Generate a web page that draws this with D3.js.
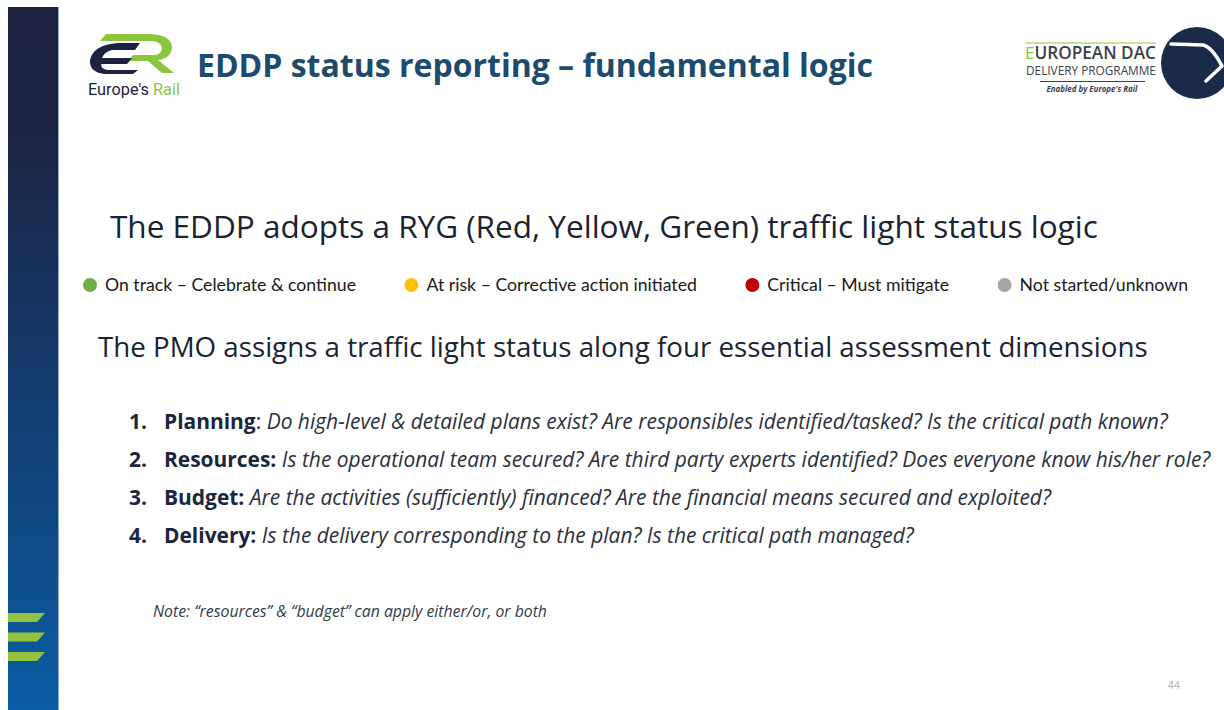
<!DOCTYPE html>
<html>
<head>
<meta charset="utf-8">
<script src="https://cdn.jsdelivr.net/npm/d3@7"></script>
<style>
  html, body { margin: 0; padding: 0; background: #fff; }
  svg { display: block; }
</style>
</head>
<body>
<svg id="slide"></svg>
<script>
// slide content
const titleText = "EDDP status reporting \u2013 fundamental logic";
const headingText = "The EDDP adopts a RYG (Red, Yellow, Green) traffic light status logic";
const subheadingText = "The PMO assigns a traffic light status along four essential assessment dimensions";
const legendLabels = [
    "On track \u2013 Celebrate & continue",
    "At risk \u2013 Corrective action initiated",
    "Critical \u2013 Must mitigate",
    "Not started/unknown"
];
const legendColors = ["#70ad47", "#ffc000", "#c00000", "#a6a6a6"];
const dimensionNumbers = ["1.", "2.", "3.", "4."];
const dimensionNames = ["Planning", "Resources:", "Budget:", "Delivery:"];
const dimensionSeps = [":", "", "", ""];
const dimensionQuestions = [
    "Do high-level & detailed plans exist? Are responsibles identified/tasked? Is the critical path known?",
    "Is the operational team secured? Are third party experts identified? Does everyone know his/her role?",
    "Are the activities (sufficiently) financed? Are the financial means secured and exploited?",
    "Is the delivery corresponding to the plan? Is the critical path managed?"
];
const noteText = "Note: \u201cresources\u201d & \u201cbudget\u201d can apply either/or, or both";
const pageNumber = "44";

const W = 1224, H = 710;
const svg = d3.select("#slide").attr("width", W).attr("height", H);
const defs = svg.append("defs");

// shrink/grow a text node so it spans a given width
const fitWidth = (sel, target) => {
    const node = sel.node();
    const size = parseFloat(sel.attr("font-size"));
    const w = node.getBBox().width;
    sel.attr("font-size", (size * target / w).toFixed(2));
};

// left bar
const barGrad = defs.append("linearGradient")
    .attr("id", "bar").attr("x1", 0).attr("y1", 0).attr("x2", 0).attr("y2", 1);
barGrad.selectAll("stop")
    .data([[0, "#1c2240"], [0.18, "#1c2444"], [1, "#0a5ca4"]])
    .enter().append("stop")
    .attr("offset", d => d[0]).attr("stop-color", d => d[1]);
svg.append("rect").attr("x", 8).attr("y", 7).attr("width", 50).attr("height", H - 7)
    .attr("fill", "url(#bar)");
svg.append("rect").attr("x", 58).attr("y", 7).attr("width", 1).attr("height", H - 7)
    .attr("fill", "#8fa6c4");

const chevY = d3.scalePoint().domain([0, 1, 2]).range([613, 652]);
svg.append("g").selectAll("path")
    .data(chevY.domain())
    .enter().append("path")
    .attr("d", d => `M8,${chevY(d)} L45,${chevY(d)} L37,${chevY(d) + 9} L8,${chevY(d) + 9} Z`)
    .attr("fill", "#94c23c");

// Europe's Rail logo
const er = svg.append("g");
er.append("path")
    .attr("d", "M106,34 L150,34 Q172,35 172,48 Q171,58 158,60 L174,73 L162,73 L148,61 L128,61 L133,55 L156,55 Q162,53 162,48 Q161,41 150,41 L100,41 Z")
    .attr("fill", "#8cc63f");
er.append("path")
    .attr("d", "M118,43 L140,43 L135,50 L112,50 Q104,52 102,58 L132,58 L127,64 L101,64 Q101,70 110,70 L138,70 L133,74 L104,74 Q89,72 90,60 Q93,45 118,43 Z")
    .attr("fill", "#1c2240");
const erText = er.append("text")
    .attr("x", 88).attr("y", 95)
    .attr("font-family", "Roboto, sans-serif").attr("font-size", 12.5)
    .attr("fill", "#1c2240");
erText.append("tspan").text("Europe's ");
erText.append("tspan").attr("fill", "#8cc63f").text("Rail");
fitWidth(erText, 92);

// title
const title = svg.append("text")
    .attr("x", 197).attr("y", 77)
    .attr("font-family", "'Open Sans', sans-serif").attr("font-weight", 700)
    .attr("font-size", 28).attr("fill", "#1d4b6e")
    .text(titleText);
fitWidth(title, 676);

// EDDP logo (right)
const dac = svg.append("g");
dac.append("line").attr("x1", 1025).attr("x2", 1156).attr("y1", 43).attr("y2", 43)
    .attr("stroke", "#8cc63f").attr("stroke-width", 1.2);
const dacTitle = dac.append("text")
    .attr("x", 1025).attr("y", 58.5)
    .attr("font-family", "'Open Sans', sans-serif").attr("font-size", 16).attr("font-weight", 600)
    .attr("fill", "#3a3f4e");
dacTitle.append("tspan").attr("fill", "#8cc63f").attr("font-weight", 400).text("E");
dacTitle.append("tspan").text("UROPEAN DAC");
fitWidth(dacTitle, 131);
const dacSub = dac.append("text")
    .attr("x", 1026).attr("y", 75)
    .attr("font-family", "'Open Sans', sans-serif").attr("font-size", 11)
    .attr("fill", "#3a3f4e").text("DELIVERY PROGRAMME");
fitWidth(dacSub, 130);
dac.append("line").attr("x1", 1040).attr("x2", 1145).attr("y1", 81.5).attr("y2", 81.5)
    .attr("stroke", "#3a3f4e").attr("stroke-width", 1);
const dacEn = dac.append("text")
    .attr("x", 1092).attr("y", 92).attr("text-anchor", "middle")
    .attr("font-family", "'Open Sans', sans-serif").attr("font-size", 7.5)
    .attr("font-style", "italic").attr("font-weight", 700)
    .attr("fill", "#3a3f4e").text("Enabled by Europe's Rail");
fitWidth(dacEn, 92);
dac.append("circle").attr("cx", 1197).attr("cy", 63).attr("r", 36).attr("fill", "#1c2a4a");
dac.append("path")
    .attr("d", "M1171,44 L1203,45 Q1212,47 1222,66 L1206,81")
    .attr("fill", "none").attr("stroke", "#fff").attr("stroke-width", 3.5)
    .attr("stroke-linejoin", "round").attr("stroke-linecap", "round");

// main heading
const heading = svg.append("text")
    .attr("x", 110).attr("y", 238)
    .attr("font-family", "'Open Sans', sans-serif").attr("font-size", 30)
    .attr("fill", "#1a2233").text(headingText);
fitWidth(heading, 988);

// legend, justified between first dot and right edge
const legendLeft = 83, legendRight = 1188, dotR = 7, dotGap = 15, legendTextTotal = 872;
const legend = svg.append("g");
const items = legend.selectAll("g")
    .data(legendLabels)
    .enter().append("g");
items.append("circle")
    .attr("r", dotR).attr("cy", 285).attr("cx", dotR)
    .attr("fill", (d, i) => legendColors[i]);
const legendText = items.append("text")
    .attr("x", dotR + dotGap).attr("y", 290.5)
    .attr("font-family", "Lato, sans-serif").attr("font-size", 17)
    .attr("fill", "#1a1a1a").text(d => d);
const rawTotal = d3.sum(legendText.nodes(), n => n.getBBox().width);
legendText.attr("font-size", (17 * legendTextTotal / rawTotal).toFixed(2));
const itemWidths = items.nodes().map(n => n.getBBox().width);
const spare = (legendRight - legendLeft - d3.sum(itemWidths)) / (legendLabels.length - 1);
let cursor = legendLeft;
items.attr("transform", (d, i) => {
    const x = cursor;
    cursor += itemWidths[i] + spare;
    return `translate(${x},0)`;
});

// sub heading
const sub = svg.append("text")
    .attr("x", 98).attr("y", 357)
    .attr("font-family", "'Open Sans', sans-serif").attr("font-size", 21)
    .attr("fill", "#1a2233").text(subheadingText);
fitWidth(sub, 1050);

// numbered list
const rowY = d3.scalePoint().domain(d3.range(dimensionNames.length)).range([429, 543]);
const rows = svg.append("g").selectAll("g")
    .data(dimensionNames)
    .enter().append("g")
    .attr("transform", (d, i) => `translate(0,${rowY(i)})`);
const nums = rows.append("text")
    .attr("x", 129)
    .attr("font-family", "'Open Sans', sans-serif").attr("font-size", 18)
    .attr("font-weight", 700).attr("fill", "#1a2540")
    .text((d, i) => dimensionNumbers[i]);
const lines = rows.append("text")
    .attr("x", 164)
    .attr("font-family", "'Open Sans', sans-serif").attr("font-size", 18)
    .attr("fill", "#1a2540");
lines.append("tspan").attr("font-weight", 700).text(d => d);
lines.append("tspan").text((d, i) => dimensionSeps[i] + " ");
lines.append("tspan").attr("font-style", "italic").attr("fill", "#2b3040")
    .text((d, i) => dimensionQuestions[i]);
fitWidth(lines.filter((d, i) => i === 1), 1212 - 164);
const listSize = lines.filter((d, i) => i === 1).attr("font-size");
lines.attr("font-size", listSize);
nums.attr("font-size", listSize);

// note
const note = svg.append("text")
    .attr("x", 153).attr("y", 617)
    .attr("font-family", "'Open Sans', sans-serif").attr("font-size", 13)
    .attr("font-style", "italic").attr("fill", "#333a48").text(noteText);
fitWidth(note, 394);

// page number
svg.append("text")
    .attr("x", 1180).attr("y", 689).attr("text-anchor", "end")
    .attr("font-family", "Roboto, sans-serif").attr("font-size", 11)
    .attr("fill", "#b8b8b8").text(pageNumber);
</script>
</body>
</html>
